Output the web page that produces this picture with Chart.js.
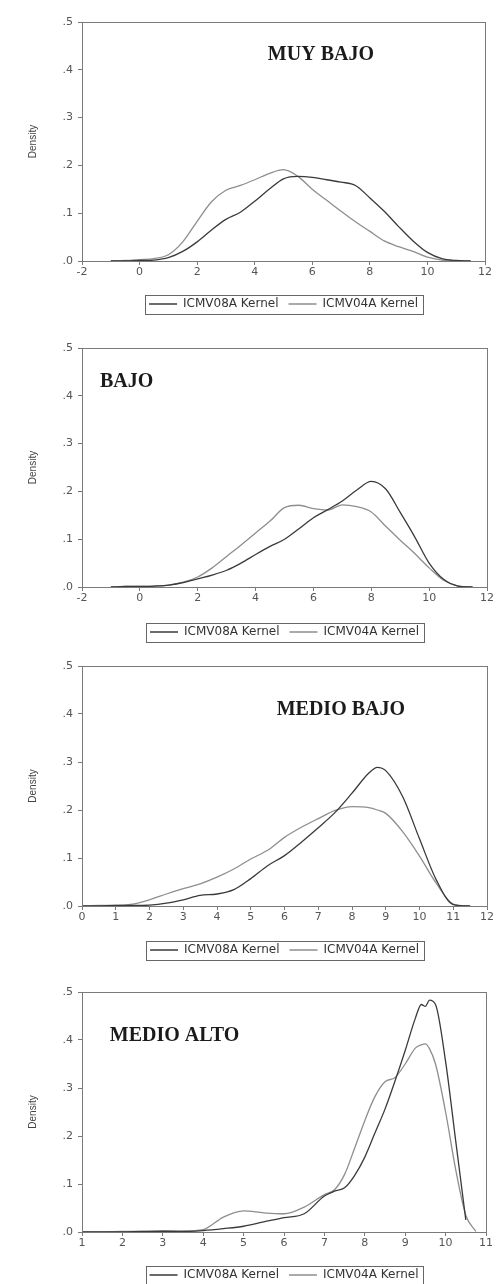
<!DOCTYPE html>
<html>
<head>
<meta charset="utf-8">
<script src="https://cdn.jsdelivr.net/npm/chart.js@4.4.1/dist/chart.umd.min.js"></script>
<style>
  html, body { margin: 0; padding: 0; background: #fff; overflow: hidden; }
  body { width: 497px; height: 1284px; position: relative; }
  canvas { position: absolute; left: 0; }
</style>
</head>
<body>
<canvas id="c0" width="497" height="320"></canvas>
<canvas id="c1" width="497" height="328"></canvas>
<canvas id="c2" width="497" height="326"></canvas>
<canvas id="c3" width="497" height="331"></canvas>
<script>
// Kernel densities, one group per panel.
const seriesNames = ["ICMV08A Kernel", "ICMV04A Kernel"];
const panelTitles = ["MUY BAJO", "BAJO", "MEDIO BAJO", "MEDIO ALTO"];
const yTickLabels = [".0", ".1", ".2", ".3", ".4", ".5"];

const xMuyBajo = [-1, -0.5, 0, 0.5, 1, 1.5, 2, 2.5, 3, 3.5, 4, 4.5, 5, 5.5, 6, 6.5, 7, 7.5, 8, 8.5, 9, 9.5, 10, 10.5, 11, 11.5];
const icmv08MuyBajo = [0, 0, 0.001, 0.002, 0.007, 0.02, 0.04, 0.065, 0.087, 0.102, 0.125, 0.15, 0.172, 0.177, 0.175, 0.17, 0.165, 0.158, 0.132, 0.104, 0.072, 0.042, 0.018, 0.005, 0.001, 0];
const icmv04MuyBajo = [0, 0.001, 0.003, 0.005, 0.013, 0.04, 0.083, 0.124, 0.148, 0.158, 0.17, 0.183, 0.191, 0.177, 0.15, 0.127, 0.104, 0.082, 0.062, 0.042, 0.03, 0.02, 0.008, 0.002, 0, 0];

const xBajo = [-1, -0.5, 0, 0.5, 1, 1.5, 2, 2.5, 3, 3.5, 4, 4.5, 5, 5.5, 6, 6.5, 7, 7.5, 8, 8.5, 9, 9.5, 10, 10.5, 11, 11.5];
const icmv08Bajo = [0, 0.001, 0.001, 0.002, 0.004, 0.009, 0.017, 0.025, 0.035, 0.05, 0.068, 0.085, 0.1, 0.122, 0.145, 0.162, 0.18, 0.203, 0.221, 0.205, 0.156, 0.105, 0.05, 0.016, 0.002, 0];
const icmv04Bajo = [0, 0.001, 0.001, 0.002, 0.004, 0.01, 0.021, 0.04, 0.064, 0.088, 0.113, 0.138, 0.166, 0.171, 0.164, 0.161, 0.172, 0.168, 0.157, 0.127, 0.098, 0.07, 0.04, 0.014, 0.002, 0];

const xMedioBajo = [0, 0.5, 1, 1.5, 2, 2.5, 3, 3.5, 4, 4.5, 5, 5.5, 6, 6.5, 7, 7.5, 8, 8.5, 8.75, 9, 9.5, 10, 10.5, 11, 11.5];
const icmv08MedioBajo = [0, 0, 0.001, 0.001, 0.002, 0.006, 0.013, 0.022, 0.025, 0.034, 0.057, 0.084, 0.105, 0.133, 0.163, 0.195, 0.235, 0.277, 0.289, 0.282, 0.228, 0.14, 0.054, 0.003, 0];
const icmv04MedioBajo = [0, 0.001, 0.001, 0.004, 0.013, 0.025, 0.036, 0.046, 0.06, 0.077, 0.098, 0.116, 0.143, 0.164, 0.182, 0.199, 0.207, 0.205, 0.2, 0.193, 0.155, 0.104, 0.047, 0.004, 0];

const xMedioAlto = [1, 1.5, 2, 2.5, 3, 3.5, 4, 4.5, 5, 5.5, 6, 6.5, 7, 7.25, 7.5, 7.75, 8, 8.25, 8.5, 8.75, 9, 9.25, 9.4, 9.5, 9.6, 9.75, 10, 10.25, 10.5, 10.75, 11];
const icmv08MedioAlto = [0, 0, 0, 0.001, 0.001, 0.001, 0.003, 0.007, 0.012, 0.021, 0.03, 0.038, 0.075, 0.085, 0.092, 0.118, 0.156, 0.206, 0.256, 0.315, 0.378, 0.445, 0.474, 0.47, 0.483, 0.474, 0.355, 0.19, 0.025, null, null];
const icmv04MedioAlto = [0, 0, 0.001, 0.001, 0.003, 0.002, 0.005, 0.031, 0.044, 0.04, 0.038, 0.052, 0.078, 0.088, 0.12, 0.175, 0.232, 0.282, 0.313, 0.322, 0.35, 0.383, 0.39, 0.392, 0.382, 0.35, 0.25, 0.13, 0.035, 0.001, null];

const darkLine = "#3a3a3a";
const lightLine = "#8e8e8e";
const axisColor = "#7a7a7a";
const tickColor = "#555";

const panels = [
  { id: "c0", top: 0, padTop: 22, padRight: 12, xAxisH: 27, xMin: -2, xMax: 12, xStep: 2,
    xs: xMuyBajo, a: icmv08MuyBajo, b: icmv04MuyBajo, title: panelTitles[0], tx: 6.3, ty: 0.431 },
  { id: "c1", top: 320, padTop: 28, padRight: 10, xAxisH: 29, xMin: -2, xMax: 12, xStep: 2,
    xs: xBajo, a: icmv08Bajo, b: icmv04Bajo, title: panelTitles[1], tx: -0.46, ty: 0.429 },
  { id: "c2", top: 640, padTop: 26, padRight: 10, xAxisH: 28, xMin: 0, xMax: 12, xStep: 1,
    xs: xMedioBajo, a: icmv08MedioBajo, b: icmv04MedioBajo, title: panelTitles[2], tx: 7.67, ty: 0.408 },
  { id: "c3", top: 960, padTop: 32, padRight: 11, xAxisH: 27, xMin: 1, xMax: 11, xStep: 1,
    xs: xMedioAlto, a: icmv08MedioAlto, b: icmv04MedioAlto, title: panelTitles[3], tx: 3.29, ty: 0.408 },
];

// full frame round the plot area, like the EViews output
const plotFrame = {
  id: "plotFrame",
  afterDatasetsDraw(chart) {
    const { ctx, chartArea: a } = chart;
    ctx.save();
    ctx.strokeStyle = axisColor;
    ctx.lineWidth = 1;
    ctx.strokeRect(Math.round(a.left) + 0.5, Math.round(a.top) + 0.5,
      Math.round(a.right - a.left), Math.round(a.bottom - a.top));
    ctx.restore();
  },
};

const legendFrame = {
  id: "legendFrame",
  afterDraw(chart) {
    const hb = chart.legend && chart.legend.legendHitBoxes;
    if (!hb || !hb.length) return;
    const last = hb[hb.length - 1];
    const l = Math.round(hb[0].left - 4) + 0.5;
    const r = Math.round(last.left + last.width + 5) + 0.5;
    const t = Math.round(hb[0].top - 3) + 0.5;
    const b = Math.round(hb[0].top + hb[0].height + 4) + 0.5;
    const ctx = chart.ctx;
    ctx.save();
    ctx.strokeStyle = "#666";
    ctx.lineWidth = 1;
    ctx.strokeRect(l, t, r - l, b - t);
    ctx.restore();
  },
};

const panelLabel = {
  id: "panelLabel",
  afterDatasetsDraw(chart, args, opts) {
    const { ctx, scales } = chart;
    ctx.save();
    ctx.font = 'bold 20px "Liberation Serif", "Times New Roman", serif';
    ctx.fillStyle = "#1b1b1b";
    ctx.textAlign = "center";
    ctx.textBaseline = "middle";
    ctx.fillText(opts.text, scales.x.getPixelForValue(opts.x), scales.y.getPixelForValue(opts.y));
    ctx.restore();
  },
};

function pairs(xs, ys) {
  return xs.map((x, i) => ({ x, y: ys[i] }));
}

function makePanel(p) {
  const canvas = document.getElementById(p.id);
  canvas.style.top = p.top + "px";
  const lineDs = (label, ys, color) => ({
    label,
    data: pairs(p.xs, ys),
    borderColor: color,
    backgroundColor: color,
    borderWidth: 1.3,
    pointRadius: 0,
    fill: false,
    cubicInterpolationMode: "monotone",
    spanGaps: false,
  });

  return new Chart(canvas.getContext("2d"), {
    type: "line",
    data: {
      datasets: [
        lineDs(seriesNames[0], p.a, darkLine),
        lineDs(seriesNames[1], p.b, lightLine),
      ],
    },
    plugins: [plotFrame, legendFrame, panelLabel],
    options: {
      responsive: false,
      animation: false,
      layout: { padding: { left: 0, right: p.padRight, top: p.padTop, bottom: 0 } },
      plugins: {
        tooltip: { enabled: false },
        panelLabel: { text: p.title, x: p.tx, y: p.ty },
        legend: {
          position: "bottom",
          fullSize: false,
          labels: {
            boxWidth: 28,
            boxHeight: 0,
            padding: 10,
            color: "#333",
            font: { family: "DejaVu Sans", size: 12 },
          },
        },
      },
      scales: {
        x: {
          type: "linear",
          min: p.xMin,
          max: p.xMax,
          afterFit: (s) => { s.height = p.xAxisH; },
          border: { display: false },
          grid: { drawOnChartArea: false, drawTicks: true, tickLength: 4, color: axisColor },
          ticks: {
            stepSize: p.xStep,
            autoSkip: false,
            maxRotation: 0,
            padding: 1,
            color: tickColor,
            font: { family: "DejaVu Sans", size: 11 },
            callback: (v) => String(v),
          },
        },
        y: {
          min: 0,
          max: 0.5,
          afterFit: (s) => { s.width = 82; },
          border: { display: false },
          grid: { drawOnChartArea: false, drawTicks: true, tickLength: 4, color: axisColor },
          ticks: {
            stepSize: 0.1,
            padding: 5,
            color: tickColor,
            font: { family: "DejaVu Sans", size: 11 },
            callback: (v) => yTickLabels[Math.round(v * 10)],
          },
          title: {
            display: true,
            text: "Density",
            color: "#444",
            font: { family: "Liberation Sans", size: 10 },
            padding: { top: 27, bottom: 0 },
          },
        },
      },
    },
  });
}

panels.forEach(makePanel);
</script>
</body>
</html>
